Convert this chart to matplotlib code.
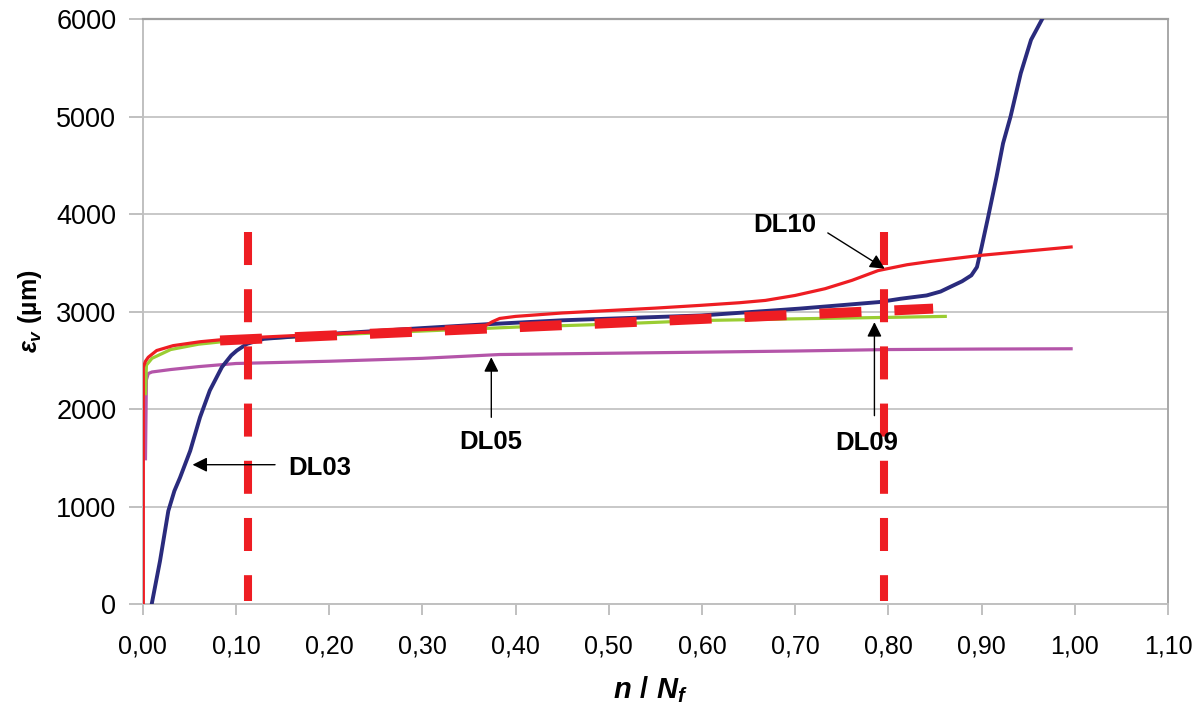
import numpy as np
import matplotlib
matplotlib.use('Agg')
import matplotlib.pyplot as plt

plt.rcParams['font.family'] = ['Liberation Sans', 'DejaVu Sans']
plt.rcParams['mathtext.fontset'] = 'custom'
plt.rcParams['mathtext.it'] = 'Liberation Sans:italic:bold'
plt.rcParams['mathtext.rm'] = 'Liberation Sans:bold'
plt.rcParams['mathtext.bf'] = 'Liberation Sans:bold'

# ---- data ----
# DL03 (navy)
dl03_x = [0.0097, 0.0186, 0.0275, 0.034, 0.040, 0.051, 0.0615, 0.072, 0.085, 0.095, 0.101, 0.112,
          0.13, 0.20, 0.30, 0.37, 0.45, 0.60, 0.705, 0.79, 0.813, 0.841, 0.856, 0.866,
          0.879, 0.889, 0.895, 0.900, 0.907, 0.916, 0.923, 0.931, 0.942, 0.953, 0.965]
dl03_y = [0, 442, 955, 1160, 1295, 1572, 1915, 2190, 2430, 2550, 2600, 2669,
          2720, 2770, 2830, 2870, 2910, 2960, 3030, 3097, 3131, 3165, 3205, 3251,
          3310, 3371, 3456, 3662, 3970, 4381, 4725, 4998, 5444, 5786, 6000]

# DL10 (red)
dl10_x = [0.0007, 0.0007, 0.003, 0.006, 0.015, 0.0326, 0.0615, 0.10, 0.20, 0.30, 0.365,
          0.375, 0.383, 0.40, 0.45, 0.50, 0.55, 0.598, 0.64, 0.668, 0.70, 0.732, 0.761,
          0.789, 0.82, 0.846, 0.90, 0.996]
dl10_y = [0, 2430, 2490, 2531, 2600, 2650, 2690, 2725, 2770, 2815, 2840,
          2895, 2929, 2950, 2985, 3010, 3035, 3063, 3090, 3114, 3165, 3234, 3320,
          3420, 3480, 3515, 3577, 3662]

# DL09 (green)
dl09_x = [0.003, 0.004, 0.010, 0.030, 0.060, 0.10, 0.20, 0.30, 0.40, 0.50,
          0.60, 0.70, 0.80, 0.861]
dl09_y = [2158, 2450, 2520, 2610, 2665, 2705, 2760, 2800, 2840, 2870,
          2908, 2925, 2940, 2950]

# DL05 (purple)
dl05_x = [0.003, 0.004, 0.006, 0.010, 0.030, 0.060, 0.10, 0.20, 0.30, 0.383,
          0.50, 0.598, 0.70, 0.80, 0.90, 0.996]
dl05_y = [1490, 2300, 2364, 2380, 2405, 2435, 2467, 2490, 2520, 2559,
          2572, 2583, 2595, 2610, 2615, 2618]

# thick dashed trend and the two vertical markers
trend_x = [0.083, 0.848]
trend_y = [2703, 3030]
vline_x = [0.113, 0.795]
vline_y = [31, 3815]

xticks = np.arange(0, 1.101, 0.1)
xtick_labels = ['%.2f' % v for v in xticks]
xtick_labels = [s.replace('.', ',') for s in xtick_labels]
yticks = np.arange(0, 6001, 1000)

# annotations: label, text position, arrow tail, arrow tip
notes = [
    ('DL03', (0.156, 1400), (0.142, 1429), (0.0535, 1429), 'left'),
    ('DL05', (0.373, 1660), (0.374, 1915), (0.374, 2531), 'center'),
    ('DL09', (0.777, 1650), (0.785, 1932), (0.785, 2891), 'center'),
    ('DL10', (0.689, 3885), (0.735, 3806), (0.796, 3440), 'center'),
]

navy = '#2A2B7D'
red = '#EE1D23'
green = '#9ACD32'
purple = '#B455A9'

fig = plt.figure(figsize=(11.98, 7.15), dpi=100)
ax = fig.add_axes([0.1191, 0.1552, 0.9750 - 0.1191, 0.9734 - 0.1552])

ax.plot(dl05_x, dl05_y, color=purple, lw=2.3, zorder=3)
ax.plot(dl09_x, dl09_y, color=green, lw=2.3, zorder=3)
ax.plot(dl03_x, dl03_y, color=navy, lw=2.8, zorder=4)
ax.plot(dl10_x, dl10_y, color=red, lw=2.3, zorder=5)

ax.plot(trend_x, trend_y, color=red, lw=7.2, dashes=(4.2, 3.3),
        solid_capstyle='butt', zorder=6)
for vx in vline_x:
    ax.plot([vx, vx], [vline_y[1], vline_y[0]], color=red, lw=5.8,
            dashes=(4.1, 3.0), zorder=6)

for label, tpos, tail, tip, ha in notes:
    ax.annotate('', xy=tip, xytext=tail,
                arrowprops=dict(arrowstyle='-|>', color='black', lw=1.0,
                                mutation_scale=22, shrinkA=0, shrinkB=0),
                zorder=7)
    ax.text(tpos[0], tpos[1], label, ha=ha, va='center', fontsize=18.5,
            fontweight='bold', zorder=8)

ax.set_xlim(0, 1.1)
ax.set_ylim(0, 6000)
ax.set_xticks(xticks)
ax.set_xticklabels(xtick_labels)
ax.set_yticks(yticks)

ax.yaxis.grid(True, color='#C8C8C8', lw=1.4)
ax.set_axisbelow(True)

for side in ['left', 'bottom']:
    ax.spines[side].set_color('#C0C0C0')
    ax.spines[side].set_linewidth(1.4)
ax.spines['top'].set_color('#A0A0A0')
ax.spines['top'].set_linewidth(1.6)
ax.spines['right'].set_color('#A8A8A8')
ax.spines['right'].set_linewidth(1.4)

ax.tick_params(axis='y', direction='out', length=10, width=1.4, color='#C0C0C0',
               labelsize=19.5, pad=9)
ax.tick_params(axis='x', direction='out', length=8, width=1.4, color='#C0C0C0',
               labelsize=18, pad=14)

ax.set_xlabel(r'$n\ /\ N_f$', fontsize=21, va='center')
ax.xaxis.set_label_coords(0.495, -0.147)
ax.set_ylabel(r'$\varepsilon_v$ (µm)', fontsize=18, fontweight='bold', va='center')
ax.yaxis.set_label_coords(-0.11, 0.5)

fig.savefig('out.png', dpi=100)
